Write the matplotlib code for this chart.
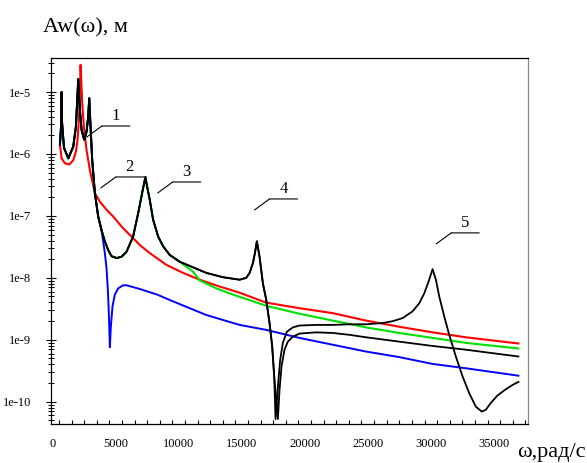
import matplotlib
matplotlib.use("Agg")
import matplotlib.pyplot as plt
import numpy as np
from matplotlib.ticker import FixedLocator, FixedFormatter, MultipleLocator, LogLocator, NullFormatter
import matplotlib.transforms as mtransforms

plt.rcParams['font.family'] = ['Liberation Serif', 'DejaVu Serif']

red_w = [80, 211, 475, 818, 1135, 1346, 1478, 1584, 1663, 1716, 1768, 1847, 1980, 2191, 2455, 2850,
         3246, 3774, 4302, 5094, 5886, 6414, 7205, 8525, 9845, 11165, 12748, 14332, 16440, 19082,
         21722, 24361, 27000, 29640, 32280, 36450]
red_lg = [-5.85, -6.07, -6.15, -6.17, -6.10, -5.96, -5.77, -5.45, -5.02, -4.56, -4.81, -5.18, -5.56,
          -5.94, -6.26, -6.63, -6.77, -6.90, -7.01, -7.20, -7.36, -7.47, -7.60, -7.79, -7.92, -8.03,
          -8.14, -8.24, -8.40, -8.49, -8.57, -8.69, -8.79, -8.88, -8.96, -9.06]

low_w = [80, 180, 211, 250, 400, 739, 1135, 1346, 1478, 1530, 1662, 1795, 2006, 2190,
         2322, 2402, 2507, 2640, 2850, 3115, 3378]
low_lg = [-5.85, -5.50, -5.00, -5.50, -5.90, -6.07, -5.88, -5.56, -5.02, -4.79, -5.29, -5.61, -5.77, -5.64,
          -5.40, -5.10, -5.56, -6.10, -6.63, -7.01, -7.23]

mid_w = [3642, 3906, 4170, 4570, 4962, 5360, 5886, 6281, 6678, 6862, 6941, 7205, 7470, 7865,
         8261, 8789, 9580]
mid_lg = [-7.41, -7.55, -7.65, -7.68, -7.66, -7.58, -7.33, -6.96, -6.55, -6.37, -6.47, -6.74, -7.06, -7.33,
          -7.49, -7.63, -7.74]

green_w = [10637, 11160, 12490, 13800, 16440, 19082, 21722, 24361, 27000, 29640, 32280, 36450]
green_lg = [-7.90, -8.04, -8.17, -8.27, -8.45, -8.58, -8.69, -8.80, -8.89, -8.97, -9.05, -9.14]

blue_w = [3510, 3642, 3774, 3880, 3959, 4040, 4117, 4250, 4434, 4698, 5094, 5360, 6414, 7785,
          9050, 10373, 11690, 13010, 14332, 16440, 19080, 21720, 24360, 27000, 29640, 32280, 36450]
blue_lg = [-7.41, -7.60, -7.84, -8.19, -8.57, -9.12, -8.79, -8.46, -8.27, -8.17, -8.12, -8.12, -8.18, -8.27,
           -8.38, -8.49, -8.60, -8.68, -8.76, -8.84, -8.97, -9.08, -9.19, -9.28, -9.39, -9.46, -9.58]

black_w = [10637, 11690, 13010, 14332, 14860, 15125, 15390, 15547, 15700, 15915, 16179, 16440,
           16707, 16918, 17077]
black_lg = [-7.83, -7.92, -7.99, -8.03, -8.00, -7.92, -7.76, -7.60, -7.41, -7.66, -8.09, -8.35,
            -8.73, -9.11, -9.59]

tail5_w = [17182, 17393, 17552, 17763, 18080, 18555, 19082, 20402, 21722, 23041, 24361, 25681,
           26472, 27264, 28056, 28584, 28980, 29323, 29640, 29904, 30168, 30563, 30959, 31487,
           32015, 32543, 33071, 33546, 33863, 34259, 34787, 35447, 35974, 36450]
tail5_lg = [-10.28, -9.70, -9.32, -9.05, -8.87, -8.80, -8.77, -8.76, -8.76, -8.75, -8.75, -8.73,
            -8.70, -8.65, -8.54, -8.41, -8.25, -8.06, -7.86, -8.03, -8.30, -8.62, -8.92, -9.27,
            -9.59, -9.86, -10.08, -10.16, -10.13, -10.02, -9.90, -9.80, -9.73, -9.68]

tail4_w = [17367, 17499, 17657, 17895, 18159, 18555, 19082, 20402, 21722, 23041, 24361, 27000,
           29640, 32280, 34920, 36450]
tail4_lg = [-10.28, -9.81, -9.43, -9.16, -9.03, -8.95, -8.90, -8.88, -8.89, -8.92, -8.96, -9.03,
            -9.10, -9.16, -9.23, -9.27]

x_ticks = [0, 5000, 10000, 15000, 20000, 25000, 30000, 35000]
x_tick_labels = ['0', '5000', '10000', '15000', '20000', '25000', '30000', '35000']
y_ticks = [1e-10, 1e-9, 1e-8, 1e-7, 1e-6, 1e-5]
y_tick_labels = ['1e-10', '1e-9', '1e-8', '1e-7', '1e-6', '1e-5']

curve_labels = ['1', '2', '3', '4', '5']
label_w = [3405, 4513, 9027, 16707, 31118]
label_lg = [-5.548, -6.371, -6.452, -6.726, -7.274]

# ---- assemble series ----
def cat(*parts):
    return np.concatenate([np.asarray(p, float) for p in parts])

red_x, red_y = np.asarray(red_w, float), 10.0 ** np.asarray(red_lg)
green_x = cat(low_w, mid_w, green_w)
green_y = 10.0 ** cat(low_lg, mid_lg, green_lg)
blue_x = cat(low_w, blue_w)
blue_y = 10.0 ** cat(low_lg, blue_lg)
b5_x = cat(low_w, mid_w, black_w, tail5_w)
b5_y = 10.0 ** cat(low_lg, mid_lg, black_lg, tail5_lg)
b4_x = cat(low_w, mid_w, black_w, tail4_w)
b4_y = 10.0 ** cat(low_lg, mid_lg, black_lg, tail4_lg)

fig = plt.figure(figsize=(5.87, 4.63), dpi=100)
ax = fig.add_axes([51/587, 39/463, 477/587, 366/463])

ax.plot(red_x, red_y, color='#ff0000', lw=1.5, solid_joinstyle='round')
ax.plot(green_x, green_y, color='#00e000', lw=1.5, solid_joinstyle='round')
ax.plot(blue_x, blue_y, color='#0000ff', lw=1.4, solid_joinstyle='round')
ax.plot(b4_x, b4_y, color='black', lw=1.3, solid_joinstyle='round')
ax.plot(b5_x, b5_y, color='black', lw=1.3, solid_joinstyle='round')

ax.set_yscale('log')
ax.set_xlim(-630, 37210)
ax.set_ylim(10 ** -10.36, 10 ** -4.45)

ax.xaxis.set_major_locator(FixedLocator(x_ticks))
ax.xaxis.set_major_formatter(FixedFormatter(x_tick_labels))
ax.xaxis.set_minor_locator(MultipleLocator(1000))
ax.yaxis.set_major_locator(FixedLocator(y_ticks))
ax.yaxis.set_major_formatter(FixedFormatter(y_tick_labels))
ax.yaxis.set_minor_locator(LogLocator(base=10, subs=np.arange(2, 10)))
ax.yaxis.set_minor_formatter(NullFormatter())

ax.tick_params(axis='x', which='both', direction='in', length=3, width=0.8,
               labelsize=9, pad=10, top=False)
ax.tick_params(axis='y', which='major', direction='inout', length=7, width=0.8,
               labelsize=9, pad=11, right=False)
ax.tick_params(axis='y', which='minor', direction='inout', length=4, width=0.7, right=False)

offset = mtransforms.ScaledTranslation(-0.06, 0, fig.dpi_scale_trans)
for lab in ax.get_xticklabels():
    lab.set_transform(lab.get_transform() + offset)

for sp in ['left', 'bottom', 'top']:
    ax.spines[sp].set_linewidth(0.9)
    ax.spines[sp].set_color('black')
ax.spines['right'].set_color('#888888')
ax.spines['right'].set_linewidth(0.9)

px = 0.72
for lbl, w, lg in zip(curve_labels, label_w, label_lg):
    knee = (w, 10.0 ** lg)
    ax.annotate('', xy=knee, xytext=(-15 * px, -11 * px), textcoords='offset points',
                arrowprops=dict(arrowstyle='-', lw=0.8, color='black', shrinkA=0, shrinkB=0))
    ax.annotate('', xy=knee, xytext=(28 * px, 0), textcoords='offset points',
                arrowprops=dict(arrowstyle='-', lw=0.8, color='black', shrinkA=0, shrinkB=0))
    ax.annotate(lbl, xy=knee, xytext=(14 * px, 9.5 * px), textcoords='offset points',
                ha='center', va='center', fontsize=12)

fig.text(43/587, 1 - 28/463, 'Aw(ω), м', fontsize=16, ha='left', va='center')
fig.text(517/587, 1 - 453/463, 'ω,рад/с', fontsize=16, ha='left', va='center')

fig.savefig('out.png', dpi=100)
